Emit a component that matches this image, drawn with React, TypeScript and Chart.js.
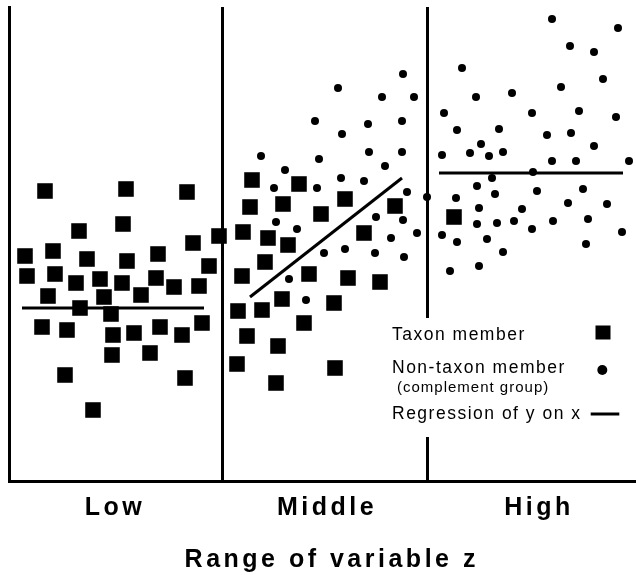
import { useEffect, useRef } from "react";
import { Chart, registerables } from "chart.js";

Chart.register(...registerables);

// ---- Data (x = position along z, y = value; arbitrary units) ----
const categoryLabels = ["Low", "Middle", "High"];
const categoryTicks = [106, 318, 530];
const dividerTicks = [213, 418];
const axisTitle = "Range of variable z";

const taxonLow: [number, number][] = [
  [36, 290], [117, 292], [178, 289], [70, 250], [114, 257], [210, 245], [184, 238],
  [16, 225], [44, 230], [78, 222], [118, 220], [149, 227], [200, 215], [18, 205],
  [46, 207], [67, 198], [91, 202], [113, 198], [147, 203], [165, 194], [190, 195],
  [39, 185], [95, 184], [132, 186], [71, 173], [102, 167], [33, 154], [58, 151],
  [104, 146], [125, 148], [151, 154], [173, 146], [193, 158], [103, 126], [141, 128],
  [56, 106], [176, 103], [84, 71],
];
const taxonMiddle: [number, number][] = [
  [243, 301], [290, 297], [241, 274], [274, 277], [336, 282], [312, 267], [386, 275],
  [234, 249], [259, 243], [279, 236], [355, 248], [256, 219], [233, 205], [300, 207],
  [339, 203], [371, 199], [273, 182], [325, 178], [229, 170], [253, 171], [295, 158],
  [238, 145], [269, 135], [228, 117], [326, 113], [267, 98],
];
const taxonHigh: [number, number][] = [[445, 264]];

const nonTaxonMiddle: [number, number][] = [
  [394, 407], [329, 393], [373, 384], [405, 384], [306, 360], [359, 357], [393, 360],
  [333, 347], [252, 325], [310, 322], [360, 329], [393, 329], [276, 311], [376, 315],
  [265, 293], [308, 293], [332, 303], [355, 300], [398, 289], [418, 284], [267, 259],
  [288, 252], [367, 264], [394, 261], [382, 243], [408, 248], [315, 228], [336, 232],
  [366, 228], [395, 224], [280, 202], [297, 181],
];
const nonTaxonHigh: [number, number][] = [
  [543, 462], [609, 453], [561, 435], [585, 429], [453, 413], [594, 402], [552, 394],
  [467, 384], [503, 388], [435, 368], [523, 368], [570, 370], [607, 364], [448, 351],
  [490, 352], [538, 346], [562, 348], [472, 337], [585, 335], [433, 326], [461, 328],
  [480, 325], [494, 329], [543, 320], [567, 320], [620, 320], [524, 309], [483, 303],
  [468, 295], [486, 287], [528, 290], [574, 292], [447, 283], [470, 273], [513, 272],
  [559, 278], [598, 277], [468, 257], [488, 258], [505, 260], [544, 260], [579, 262],
  [523, 252], [613, 249], [433, 246], [448, 239], [478, 242], [577, 237], [494, 229],
  [441, 210], [470, 215],
];

const regressionLow: [number, number][] = [[13, 173], [195, 173]];
const regressionMiddle: [number, number][] = [[241, 184], [393, 303]];
const regressionHigh: [number, number][] = [[430, 308], [614, 308]];

const legendLabels = ["Taxon member", "Non-taxon member", "(complement group)", "Regression of y on x"];

const X_MAX = 627;
const Y_MAX = 474;
const FONT = '"Liberation Sans", Arial, Helvetica, sans-serif';

const toXY = (pts: [number, number][]) => pts.map(([x, y]) => ({ x, y }));

const lineDataset = (label: string, pts: [number, number][]) => ({
  label,
  data: toXY(pts),
  showLine: true,
  borderColor: "#000",
  borderWidth: 3,
  pointRadius: 0,
  pointHoverRadius: 0,
  borderCapStyle: "butt" as const,
});

const decorPlugin = {
  id: "decor",
  beforeDraw(chart: any) {
    chart.ctx.letterSpacing = "3.5px";
  },
  beforeDatasetsDraw(chart: any) {
    const { ctx, chartArea } = chart;
    ctx.save();
    ctx.fillStyle = "#fff";
    ctx.fillRect(chartArea.right - 252, chartArea.bottom - 163, 250, 119);
    ctx.restore();
  },
  afterDraw(chart: any) {
    const { ctx, chartArea } = chart;
    const R = chartArea.right;
    const B = chartArea.bottom;
    ctx.save();
    ctx.fillStyle = "#000";
    ctx.strokeStyle = "#000";
    ctx.textAlign = "left";
    ctx.textBaseline = "middle";
    ctx.font = `17.5px ${FONT}`;
    ctx.letterSpacing = "1.5px";
    const lx = R - 244;
    ctx.fillText(legendLabels[0], lx, B - 145.5);
    ctx.fillText(legendLabels[1], lx, B - 112.7);
    ctx.fillText(legendLabels[3], lx, B - 67.3);
    ctx.font = `15px ${FONT}`;
    ctx.letterSpacing = "1px";
    ctx.fillText(legendLabels[2], lx + 5, B - 93.5);
    // markers
    ctx.fillRect(R - 40.5, B - 155.5, 15, 14);
    ctx.beginPath();
    ctx.arc(R - 33.7, B - 111, 5, 0, Math.PI * 2);
    ctx.fill();
    ctx.lineWidth = 3;
    ctx.beginPath();
    ctx.moveTo(R - 45.3, B - 67);
    ctx.lineTo(R - 16.7, B - 67);
    ctx.stroke();
    // axis title
    ctx.font = `bold 25px ${FONT}`;
    ctx.letterSpacing = "3.5px";
    ctx.textAlign = "center";
    ctx.fillText(axisTitle, (chartArea.left + chartArea.right) / 2 + 7.5 + 1.75, B + 79.5);
    ctx.restore();
  },
};

export default function App() {
  const ref = useRef<HTMLCanvasElement | null>(null);
  useEffect(() => {
    if (!ref.current) return;
    const chart = new Chart(ref.current, {
      type: "scatter",
      data: {
        datasets: [
          lineDataset("Regression (Low)", regressionLow),
          lineDataset("Regression (Middle)", regressionMiddle),
          lineDataset("Regression (High)", regressionHigh),
          {
            label: "Taxon member",
            data: toXY([...taxonLow, ...taxonMiddle, ...taxonHigh]),
            pointStyle: "rect",
            pointRadius: 11,
            pointHoverRadius: 11,
            pointBackgroundColor: "#000",
            backgroundColor: "#000",
            pointBorderWidth: 0,
            borderWidth: 0,
          },
          {
            label: "Non-taxon member",
            data: toXY([...nonTaxonMiddle, ...nonTaxonHigh]),
            pointStyle: "circle",
            pointRadius: 4,
            pointHoverRadius: 4,
            pointBackgroundColor: "#000",
            backgroundColor: "#000",
            pointBorderWidth: 0,
            borderWidth: 0,
          },
        ] as any,
      },
      options: {
        animation: false,
        responsive: false,
        devicePixelRatio: 1,
        events: [],
        layout: { autoPadding: false, padding: { left: 9, top: 7, right: 0, bottom: 39 } },
        plugins: { legend: { display: false }, tooltip: { enabled: false }, title: { display: false } },
        scales: {
          x: {
            type: "linear",
            min: 0,
            max: X_MAX,
            afterBuildTicks: (scale: any) => {
              scale.ticks = [...categoryTicks, ...dividerTicks]
                .sort((a, b) => a - b)
                .map((v) => ({ value: v }));
            },
            ticks: {
              autoSkip: false,
              maxRotation: 0,
              minRotation: 0,
              padding: 15,
              color: "#000",
              font: { family: FONT, size: 25, weight: "bold", lineHeight: 1 },
              callback: (v: any) => {
                const i = categoryTicks.indexOf(Number(v));
                return i >= 0 ? categoryLabels[i] : "";
              },
            },
            grid: {
              drawTicks: false,
              drawOnChartArea: true,
              lineWidth: 3,
              color: (c: any) => (c.tick && dividerTicks.includes(c.tick.value) ? "#000" : "rgba(0,0,0,0)"),
            },
            border: { display: true, color: "#000", width: 3 },
          },
          y: {
            type: "linear",
            min: 0,
            max: Y_MAX,
            ticks: { display: false },
            grid: { display: false, drawTicks: false },
            border: { display: true, color: "#000", width: 3 },
          },
        },
      } as any,
      plugins: [decorPlugin],
    });
    return () => chart.destroy();
  }, []);
  return (
    <div style={{ position: "absolute", left: 0, top: 0, width: 636, height: 575, background: "#fff" }}>
      <canvas ref={ref} width={636} height={575} />
    </div>
  );
}
